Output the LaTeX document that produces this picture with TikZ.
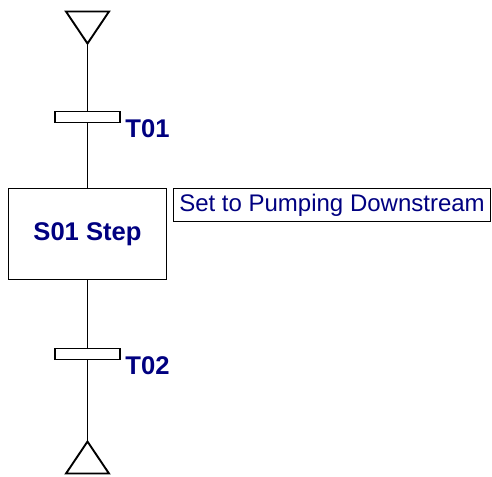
\documentclass[tikz,border=0pt]{standalone}
\usepackage{fontspec}
\setmainfont{Liberation Sans}
\usetikzlibrary{positioning, shapes.geometric}

\begin{document}
\begin{tikzpicture}[x=0.5pt, y=-0.5pt, node distance=34pt]
  \definecolor{sfcblue}{RGB}{0,0,128}
  \tikzset{
    sfcline/.style={line width=0.95pt, draw=black},
    endtri/.style={isosceles triangle, isosceles triangle stretches,
      shape border rotate=#1, minimum width=21.5pt, minimum height=16pt,
      inner sep=0pt, outer sep=0pt, sfcline},
    trans/.style={rectangle, minimum width=32.5pt, minimum height=5.5pt,
      inner sep=0pt, outer sep=0pt, sfcline, fill=white},
    translbl/.style={anchor=west, inner sep=0pt, text=sfcblue,
      font=\fontsize{12.8pt}{15pt}\selectfont\bfseries},
    stepbox/.style={rectangle, minimum width=79pt, minimum height=45.5pt,
      inner sep=0pt, outer sep=0pt, sfcline,
      text=sfcblue, font=\fontsize{12.8pt}{15pt}\selectfont\bfseries},
    actbox/.style={rectangle, minimum width=158.5pt, minimum height=16.5pt,
      inner sep=0pt, outer sep=0pt, sfcline,
      text=sfcblue, font=\fontsize{12pt}{14pt}\selectfont}
  }
  \useasboundingbox (0,0) rectangle (492,476);
  \node[endtri=270] (init) at (87.5,23) {};
  \node[trans, below=34pt of init] (t01) {};
  \node[translbl] (t01lbl) at ([xshift=2.5pt, yshift=-6pt]t01.east) {T01};
  \node[stepbox, below=33pt of t01] (s01) {S01 Step};
  \node[actbox, anchor=north west] (act01) at ([xshift=3.5pt]s01.north east) {Set to Pumping Downstream};
  \node[trans, below=34.5pt of s01] (t02) {};
  \node[translbl] (t02lbl) at ([xshift=2.5pt, yshift=-6pt]t02.east) {T02};
  \node[endtri=90, below=41pt of t02] (final) {};
  \draw[sfcline] (init.apex) -- (t01.north);
  \draw[sfcline] (t01.south) -- (s01.north);
  \draw[sfcline] (s01.south) -- (t02.north);
  \draw[sfcline] (t02.south) -- (final.apex);
\end{tikzpicture}
\end{document}
